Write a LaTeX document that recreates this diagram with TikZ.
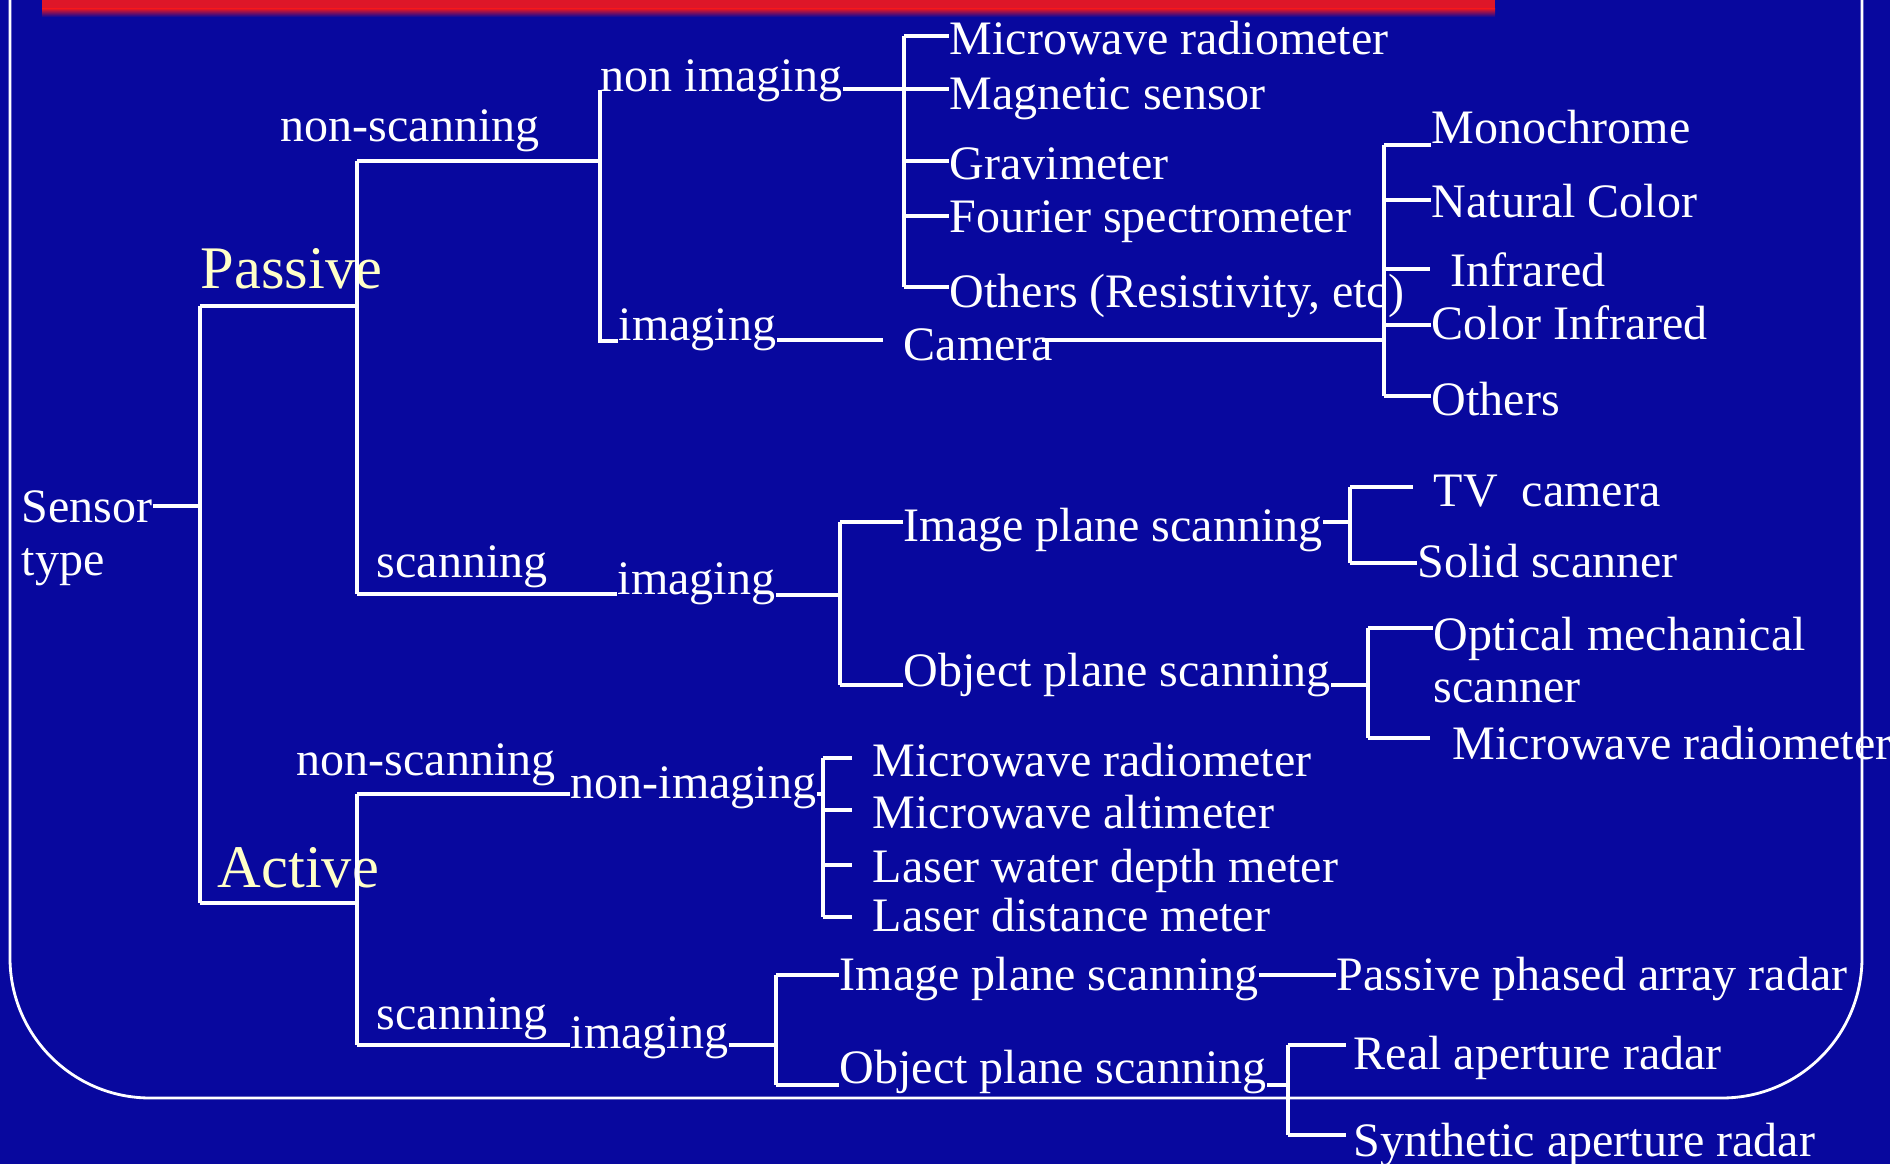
\documentclass[tikz,border=0pt]{standalone}
\usepackage{fontspec}
\setmainfont{Liberation Serif}
\definecolor{bgblue}{RGB}{8,8,158}
\definecolor{barred}{RGB}{222,22,40}
\definecolor{paleyellow}{RGB}{255,255,200}
\tikzset{
  lbl/.style={anchor=base west, inner sep=0pt, text=white, font=\fontsize{13.66}{15}\selectfont},
  biglbl/.style={lbl, text=paleyellow, font=\fontsize{17.2}{20}\selectfont},
  wire/.style={draw=white, line width=1pt},
  frame/.style={draw=white, line width=0.8pt},
}
\begin{document}
\begin{tikzpicture}[x=0.01cm, y=-0.01cm]
\useasboundingbox (0,0) rectangle (1890,1164);
\fill[bgblue] (0,0) rectangle (1890,1164);
% title bar remnant
\fill[barred] (42,0) rectangle (1495,9);
\shade[top color=barred, bottom color=bgblue] (42,9) rectangle (1495,17);
% frame
\draw[frame, rounded corners=1.4cm] (10,-20) -- (10,1098) -- (1862,1098) -- (1862,-20);

% ---------- text nodes ----------
\node[lbl] (sensor) at (21,523) {Sensor};
\node[lbl] (stype) at (21,576) {type};
\node[biglbl] (passive) at (200,289) {Passive};
\node[biglbl] (active) at (217,887) {Active};

\node[lbl] (pns) at (280,142) {non-scanning};
\node[lbl] (pnimg) at (600,92) {non imaging};
\node[lbl] (pimg) at (618,341) {imaging};
\node[lbl] (camera) at (903,361) {Camera};

\node[lbl] (mwr1) at (949,55) {Microwave radiometer};
\node[lbl] (mag) at (949,110) {Magnetic sensor};
\node[lbl] (grav) at (949,180) {Gravimeter};
\node[lbl] (four) at (949,233) {Fourier spectrometer};
\node[lbl] (oth1) at (949,308) {Others (Resistivity, etc)};

\node[lbl] (mono) at (1431,144) {Monochrome};
\node[lbl] (natc) at (1431,218) {Natural Color};
\node[lbl] (infr) at (1450,287) {Infrared};
\node[lbl] (cinf) at (1431,340) {Color Infrared};
\node[lbl] (oth2) at (1431,416) {Others};

\node[lbl] (psc) at (376,578) {scanning};
\node[lbl] (psimg) at (617,595) {imaging};
\node[lbl] (pips) at (903,542) {Image plane scanning};
\node[lbl] (pops) at (903,686) {Object plane scanning};
\node[lbl] (tv) at (1433,507) {TV~~camera};
\node[lbl] (solid) at (1417,578) {Solid scanner};
\node[lbl, anchor=north west, align=left, font=\fontsize{13.66}{14.8}\selectfont] (optm) at (1433,616) {Optical mechanical\\scanner};
\node[lbl] (mwr2) at (1452,759) {Microwave radiometer};

\node[lbl] (ans) at (296,776) {non-scanning};
\node[lbl] (animg) at (570,798) {non-imaging};
\node[lbl] (mwr3) at (872,777) {Microwave radiometer};
\node[lbl] (malt) at (872,829) {Microwave altimeter};
\node[lbl] (lwd) at (872,883) {Laser water depth meter};
\node[lbl] (ldm) at (872,932) {Laser distance meter};

\node[lbl] (asc) at (376,1029) {scanning};
\node[lbl] (asimg) at (570,1048) {imaging};
\node[lbl] (aips) at (839,990) {Image plane scanning};
\node[lbl] (aops) at (839,1083) {Object plane scanning};
\node[lbl] (ppar) at (1336,990) {Passive phased array radar};
\node[lbl] (rar) at (1353,1069) {Real aperture radar};
\node[lbl] (sar) at (1353,1156) {Synthetic aperture radar};

% ---------- junction coordinates ----------
\coordinate (sj) at (200,506);
\coordinate (pj) at (200,306);
\coordinate (aj) at (200,903);
\coordinate (pvt) at (357,161);
\coordinate (pvm) at (357,306);
\coordinate (pvb) at (357,594);
\coordinate (avt) at (357,794);
\coordinate (avm) at (357,903);
\coordinate (avb) at (357,1045);

\coordinate (nit) at (600,90);
\coordinate (nim) at (600,161);
\coordinate (nib) at (600,341);
\coordinate (camy) at (600,340);
\coordinate (cj) at (1384,340);

\coordinate (n1) at (904,36);
\coordinate (n2) at (904,89);
\coordinate (n3) at (904,161);
\coordinate (n4) at (904,216);
\coordinate (n5) at (904,287);

\coordinate (c1) at (1384,145);
\coordinate (c2) at (1384,200);
\coordinate (c3) at (1384,269);
\coordinate (c4) at (1384,325);
\coordinate (c5) at (1384,396);

\coordinate (sv) at (840,595);
\coordinate (sv1) at (840,522);
\coordinate (sv2) at (840,685);
\coordinate (tj) at (1350,522);
\coordinate (t1) at (1350,487);
\coordinate (t2) at (1350,563);
\coordinate (oj) at (1368,685);
\coordinate (o1) at (1368,628);
\coordinate (o2) at (1368,738);

\coordinate (aj1) at (823,794);
\coordinate (m1) at (823,758);
\coordinate (m2) at (823,810);
\coordinate (m3) at (823,865);
\coordinate (m4) at (823,917);

\coordinate (asv) at (776,1045);
\coordinate (asv1) at (776,975);
\coordinate (asv2) at (776,1085);
\coordinate (rj) at (1288,1085);
\coordinate (r1) at (1288,1045);
\coordinate (r2) at (1288,1135);

% ---------- connectors ----------
% root
\draw[wire] (sensor.east |- sj) -- (sj);
\draw[wire] (pj) -- (aj);
\draw[wire] (pj) -- (pvm);
\draw[wire] (aj) -- (avm);

% passive
\draw[wire] (pvt) -- (pvb);
\draw[wire] (pvt) -- (nim);
\draw[wire] (nit) -- (nib) -- (nib -| pimg.west);
\draw[wire] (pnimg.east |- n2) -- (n2);
\draw[wire] (pimg.east |- camy) -- ([xshift=-0.2cm]camera.west |- camy);
\draw[wire] ([xshift=-0.12cm]camera.east |- cj) -- (cj);

\draw[wire] (n1) -- (n5);
\foreach \s/\t in {n1/mwr1, n2/mag, n3/grav, n4/four, n5/oth1}
  \draw[wire] (\s) -- (\s -| \t.west);

\draw[wire] (c1) -- (c5);
\foreach \s/\t in {c1/mono, c2/natc, c4/cinf, c5/oth2}
  \draw[wire] (\s) -- (\s -| \t.west);
\draw[wire] (c3) -- ([xshift=-0.2cm]c3 -| infr.west);

\draw[wire] (pvb) -- (pvb -| psimg.west);
\draw[wire] (psimg.east |- sv) -- (sv);
\draw[wire] (sv1) -- (sv2);
\draw[wire] (sv1) -- (sv1 -| pips.west);
\draw[wire] (sv2) -- (sv2 -| pops.west);

\draw[wire] (pips.east |- tj) -- (tj);
\draw[wire] (t1) -- (t2);
\draw[wire] (t1) -- ([xshift=-0.2cm]t1 -| tv.west);
\draw[wire] (t2) -- (t2 -| solid.west);

\draw[wire] (pops.east |- oj) -- (oj);
\draw[wire] (o1) -- (o2);
\draw[wire] (o1) -- (o1 -| optm.west);
\draw[wire] (o2) -- ([xshift=-0.22cm]o2 -| mwr2.west);

% active
\draw[wire] (avt) -- (avb);
\draw[wire] (avt) -- (avt -| animg.west);
\draw[wire] (animg.east |- aj1) -- (aj1);
\draw[wire] (m1) -- (m4);
\foreach \s/\t in {m1/mwr3, m2/malt, m3/lwd, m4/ldm}
  \draw[wire] (\s) -- ([xshift=-0.2cm]\s -| \t.west);

\draw[wire] (avb) -- (avb -| asimg.west);
\draw[wire] (asimg.east |- asv) -- (asv);
\draw[wire] (asv1) -- (asv2);
\draw[wire] (asv1) -- (asv1 -| aips.west);
\draw[wire] (asv2) -- (asv2 -| aops.west);
\draw[wire] (aips.east |- asv1) -- (asv1 -| ppar.west);

\draw[wire] (aops.east |- rj) -- (rj);
\draw[wire] (r1) -- (r2);
\draw[wire] (r1) -- ([xshift=-0.07cm]r1 -| rar.west);
\draw[wire] (r2) -- ([xshift=-0.07cm]r2 -| sar.west);
\end{tikzpicture}
\end{document}
